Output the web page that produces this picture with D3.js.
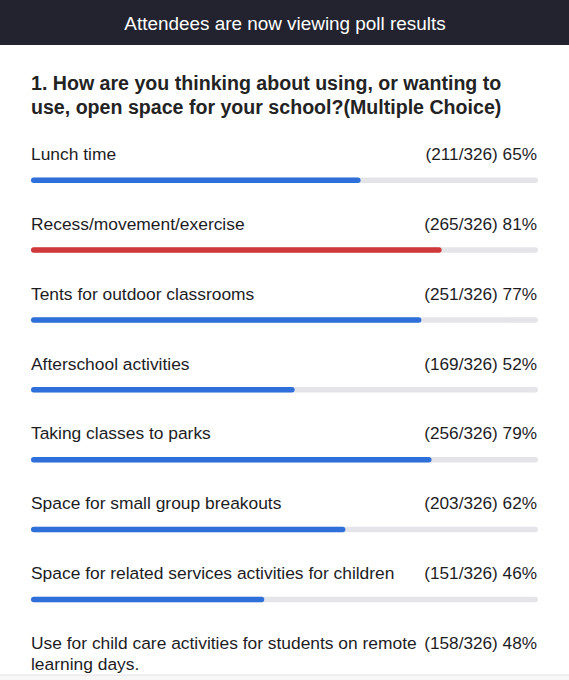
<!DOCTYPE html>
<html>
<head>
<meta charset="utf-8">
<script src="https://cdn.jsdelivr.net/npm/d3@7"></script>
<style>
  html, body { margin: 0; padding: 0; background: #ffffff; }
  svg { display: block; }
</style>
</head>
<body>
<script>
const headerText = "Attendees are now viewing poll results";
const questionLines = [
  "1. How are you thinking about using, or wanting to",
  "use, open space for your school?(Multiple Choice)"
];
const categories = [
  ["Lunch time"],
  ["Recess/movement/exercise"],
  ["Tents for outdoor classrooms"],
  ["Afterschool activities"],
  ["Taking classes to parks"],
  ["Space for small group breakouts"],
  ["Space for related services activities for children"],
  ["Use for child care activities for students on remote", "learning days."]
];
const counts = [211, 265, 251, 169, 256, 203, 151, 158];
const total = 326;
const percents = [65, 81, 77, 52, 79, 62, 46, 48];
const highlight = [false, true, false, false, false, false, false, false];

const W = 569, H = 680;
const svg = d3.select("body").append("svg").attr("width", W).attr("height", H);
const font = "'Liberation Sans', Arial, Helvetica, sans-serif";

svg.append("rect").attr("x", 0).attr("y", 0).attr("width", W).attr("height", H).attr("fill", "#ffffff");

// header
svg.append("rect").attr("x", 0).attr("y", 0).attr("width", W).attr("height", 45).attr("fill", "#23232f");
svg.append("text").attr("x", 285).attr("y", 30).attr("text-anchor", "middle")
  .attr("fill", "#ffffff").style("font-family", font).style("font-size", "18.9px")
  .text(headerText);

// question
svg.append("g").selectAll("text").data(questionLines).join("text")
  .attr("x", 31).attr("y", (d, i) => 90 + i * 24)
  .attr("fill", "#232323").style("font-family", font).style("font-size", "19.6px").style("font-weight", "bold")
  .text(d => d);

const x = d3.scaleLinear().domain([0, 100]).range([31, 538]);
const y = d3.scaleLinear().domain([0, categories.length - 1]).range([160, 649]);
const barH = 5.5;

const rows = svg.append("g").selectAll("g").data(categories).join("g")
  .attr("transform", (d, i) => `translate(0,${y(i)})`);

rows.append("text")
  .attr("x", 31).attr("fill", "#1d1d1f")
  .style("font-family", font).style("font-size", "17.4px")
  .selectAll("tspan").data(d => d).join("tspan")
  .attr("x", 31).attr("dy", (d, j) => j === 0 ? 0 : 21)
  .text(d => d);

rows.append("text")
  .attr("x", 537).attr("text-anchor", "end").attr("fill", "#1d1d1f")
  .style("font-family", font).style("font-size", "17.2px")
  .text((d, i) => `(${counts[i]}/${total}) ${percents[i]}%`);

// bars (last row bar falls off the visible area)
rows.filter((d, i) => i < categories.length - 1).append("rect")
  .attr("x", x(0)).attr("y", 17.5).attr("width", x(100) - x(0)).attr("height", barH)
  .attr("rx", barH / 2).attr("fill", "#e4e4e9");
rows.filter((d, i) => i < categories.length - 1).append("rect")
  .attr("x", x(0)).attr("y", 17.5).attr("width", (d, i) => x(percents[i]) - x(0)).attr("height", barH)
  .attr("rx", barH / 2).attr("fill", (d, i) => highlight[i] ? "#d0383a" : "#2f6fd9");

// bottom divider
svg.append("rect").attr("x", 0).attr("y", 675).attr("width", W).attr("height", 5).attr("fill", "#f7f7f8");
svg.append("line").attr("x1", 0).attr("x2", W).attr("y1", 675).attr("y2", 675)
  .attr("stroke", "#e2e2e6").attr("stroke-width", 1);
</script>
</body>
</html>
